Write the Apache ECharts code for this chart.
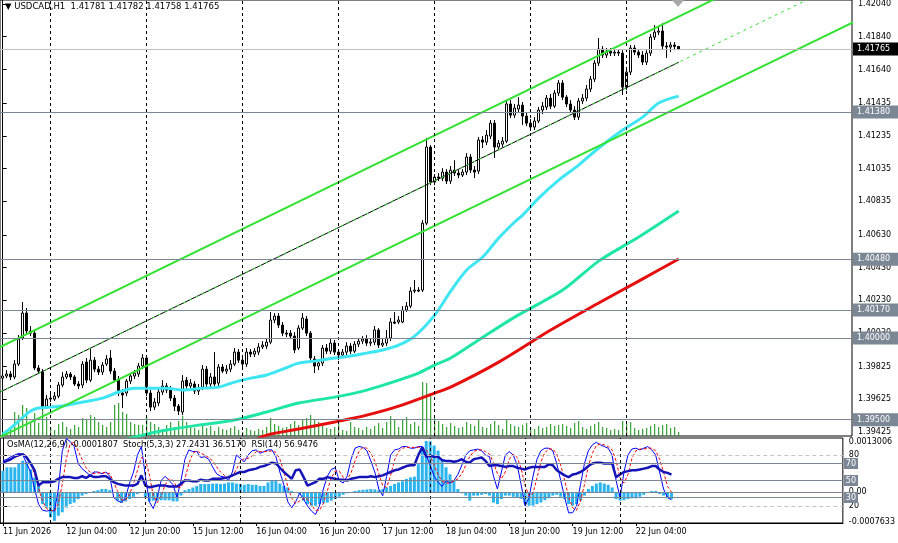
<!DOCTYPE html>
<html>
<head>
<meta charset="utf-8">
<title>USDCAD,H1</title>
<script src="https://cdn.jsdelivr.net/npm/echarts@6/dist/echarts.min.js"></script>
<style>
  html, body { margin: 0; padding: 0; background: #fff; }
  #myChart { width: 898px; height: 543px; }
</style>
</head>
<body>
<div id="myChart"></div>
<script>
// bar 0 = 11 Jun 2026 12:00, one bar per hour (weekend skipped)
// [open, close, low, high]
const candles = [
  [1.39754,1.39767,1.39736,1.39791],[1.39767,1.39779,1.39754,1.39803],[1.39779,1.39761,1.39742,1.39797],[1.39761,1.39840,1.39748,1.39864],[1.39840,1.39993,1.39828,1.40017],
  [1.39999,1.40152,1.39987,1.40219],[1.40152,1.40042,1.40023,1.40182],[1.40042,1.40029,1.40011,1.40072],[1.40029,1.39816,1.39803,1.40048],[1.39816,1.39797,1.39779,1.39834],
  [1.39791,1.39577,1.39559,1.39809],[1.39583,1.39626,1.39565,1.39651],[1.39626,1.39632,1.39608,1.39657],[1.39626,1.39644,1.39614,1.39669],[1.39644,1.39712,1.39632,1.39730],
  [1.39712,1.39761,1.39699,1.39791],[1.39761,1.39779,1.39748,1.39797],[1.39779,1.39761,1.39742,1.39791],[1.39761,1.39718,1.39706,1.39773],[1.39718,1.39706,1.39687,1.39736],
  [1.39712,1.39840,1.39693,1.39858],[1.39852,1.39742,1.39724,1.39877],[1.39742,1.39864,1.39730,1.39938],[1.39864,1.39809,1.39791,1.39883],[1.39809,1.39791,1.39773,1.39828],
  [1.39791,1.39834,1.39773,1.39852],[1.39840,1.39871,1.39828,1.39895],[1.39877,1.39797,1.39779,1.39926],[1.39797,1.39742,1.39730,1.39816],[1.39748,1.39663,1.39644,1.39767],
  [1.39663,1.39651,1.39571,1.39687],[1.39663,1.39736,1.39644,1.39748],[1.39736,1.39767,1.39718,1.39785],[1.39767,1.39785,1.39748,1.39803],[1.39779,1.39828,1.39761,1.39846],
  [1.39828,1.39877,1.39809,1.39901],[1.39877,1.39663,1.39644,1.39895],[1.39663,1.39577,1.39553,1.39681],[1.39577,1.39608,1.39559,1.39632],[1.39602,1.39669,1.39583,1.39687],
  [1.39669,1.39706,1.39651,1.39742],[1.39706,1.39681,1.39663,1.39724],[1.39681,1.39632,1.39614,1.39706],[1.39632,1.39583,1.39553,1.39651],[1.39583,1.39553,1.39528,1.39596],
  [1.39547,1.39736,1.39528,1.39773],[1.39742,1.39706,1.39687,1.39761],[1.39706,1.39724,1.39693,1.39748],[1.39718,1.39675,1.39657,1.39736],[1.39675,1.39693,1.39651,1.39718],
  [1.39699,1.39809,1.39681,1.39834],[1.39809,1.39718,1.39699,1.39828],[1.39718,1.39761,1.39699,1.39785],[1.39761,1.39718,1.39706,1.39913],[1.39724,1.39822,1.39706,1.39840],
  [1.39822,1.39797,1.39785,1.39840],[1.39797,1.39809,1.39779,1.39834],[1.39809,1.39840,1.39791,1.39864],[1.39840,1.39913,1.39828,1.39938],[1.39913,1.39864,1.39846,1.39932],
  [1.39864,1.39840,1.39816,1.39883],[1.39840,1.39913,1.39822,1.39938],[1.39913,1.39901,1.39883,1.39932],[1.39901,1.39919,1.39883,1.39938],[1.39913,1.39944,1.39895,1.39968],
  [1.39944,1.39956,1.39932,1.39980],[1.39950,1.39974,1.39932,1.39999],[1.39974,1.40109,1.39962,1.40158],[1.40109,1.40133,1.40090,1.40152],[1.40133,1.40078,1.40060,1.40152],
  [1.40078,1.40029,1.40011,1.40097],[1.40029,1.40023,1.40005,1.40048],[1.40029,1.40011,1.39993,1.40048],[1.40011,1.39926,1.39907,1.40035],[1.39938,1.40060,1.39926,1.40078],
  [1.40060,1.40121,1.40048,1.40152],[1.40115,1.40029,1.40011,1.40133],[1.40029,1.39877,1.39852,1.40042],[1.39871,1.39828,1.39785,1.39889],[1.39828,1.39846,1.39803,1.39871],
  [1.39846,1.39938,1.39828,1.39956],[1.39938,1.39919,1.39901,1.39962],[1.39919,1.39968,1.39901,1.39993],[1.39968,1.39913,1.39895,1.39987],[1.39913,1.39895,1.39864,1.39932],
  [1.39895,1.39913,1.39877,1.39932],[1.39913,1.39950,1.39895,1.39974],[1.39950,1.39919,1.39901,1.39968],[1.39919,1.39962,1.39907,1.39980],[1.39962,1.39980,1.39944,1.39999],
  [1.39980,1.39993,1.39962,1.40011],[1.39993,1.39968,1.39950,1.40017],[1.39968,1.39974,1.39950,1.39993],[1.39974,1.40048,1.39956,1.40072],[1.40048,1.39956,1.39938,1.40060],
  [1.39956,1.39968,1.39944,1.39993],[1.39968,1.39999,1.39950,1.40048],[1.39999,1.40097,1.39980,1.40121],[1.40097,1.40090,1.40084,1.40158],[1.40097,1.40109,1.40084,1.40133],
  [1.40097,1.40170,1.40090,1.40194],[1.40170,1.40194,1.40158,1.40219],[1.40194,1.40286,1.40182,1.40310],[1.40286,1.40292,1.40274,1.40353],[1.40292,1.40286,1.40280,1.40310],
  [1.40292,1.40701,1.40280,1.40720],[1.40701,1.41166,1.40689,1.41221],[1.41166,1.40952,1.40934,1.41178],[1.40952,1.40983,1.40934,1.41001],[1.40983,1.40976,1.40958,1.41007],
  [1.40976,1.41013,1.40958,1.41037],[1.41013,1.40958,1.40940,1.41031],[1.40958,1.41025,1.40940,1.41050],[1.41025,1.41007,1.40989,1.41086],[1.41007,1.40995,1.40976,1.41025],
  [1.40995,1.41013,1.40983,1.41031],[1.41013,1.41105,1.40995,1.41129],[1.41105,1.41025,1.41007,1.41123],[1.41025,1.41013,1.40976,1.41050],[1.41019,1.41209,1.41001,1.41227],
  [1.41209,1.41196,1.41160,1.41233],[1.41196,1.41239,1.41178,1.41270],[1.41233,1.41312,1.41215,1.41331],[1.41312,1.41166,1.41099,1.41331],[1.41166,1.41190,1.41147,1.41209],
  [1.41184,1.41202,1.41166,1.41227],[1.41202,1.41429,1.41190,1.41453],[1.41429,1.41361,1.41343,1.41453],[1.41361,1.41404,1.41343,1.41429],[1.41398,1.41422,1.41374,1.41471],
  [1.41422,1.41355,1.41300,1.41441],[1.41355,1.41312,1.41294,1.41374],[1.41312,1.41288,1.41264,1.41337],[1.41288,1.41325,1.41270,1.41349],[1.41325,1.41392,1.41312,1.41410],
  [1.41392,1.41416,1.41367,1.41441],[1.41410,1.41465,1.41392,1.41484],[1.41465,1.41416,1.41398,1.41490],[1.41416,1.41496,1.41404,1.41514],[1.41496,1.41557,1.41477,1.41575],
  [1.41557,1.41471,1.41453,1.41575],[1.41471,1.41429,1.41410,1.41484],[1.41429,1.41392,1.41374,1.41453],[1.41392,1.41349,1.41331,1.41416],[1.41349,1.41447,1.41331,1.41465],
  [1.41447,1.41465,1.41429,1.41490],[1.41465,1.41520,1.41447,1.41545],[1.41520,1.41581,1.41502,1.41600],[1.41581,1.41679,1.41563,1.41697],[1.41679,1.41765,1.41661,1.41832],
  [1.41765,1.41728,1.41710,1.41783],[1.41728,1.41752,1.41710,1.41771],[1.41752,1.41740,1.41722,1.41771],[1.41740,1.41746,1.41722,1.41765],[1.41746,1.41740,1.41722,1.41765],
  [1.41740,1.41532,1.41484,1.41758],[1.41532,1.41624,1.41514,1.41642],[1.41624,1.41771,1.41606,1.41789],[1.41771,1.41746,1.41728,1.41789],[1.41746,1.41728,1.41710,1.41765],
  [1.41728,1.41685,1.41667,1.41752],[1.41685,1.41740,1.41667,1.41758],[1.41740,1.41838,1.41722,1.41856],[1.41838,1.41868,1.41820,1.41911],[1.41868,1.41875,1.41850,1.41899],
  [1.41875,1.41783,1.41765,1.41923],[1.41783,1.41777,1.41710,1.41807],[1.41777,1.41789,1.41746,1.41807],[1.41789,1.41781,1.41758,1.41807],[1.41781,1.41765,1.41758,1.41782]
];

// tick volume per bar
const volumes = [
  160,240,360,960,840,1240,1120,560,920,520, 1040,760,360,240,480,560,360,280,440,360,
  720,640,840,760,560,440,360,560,1240,1320, 960,880,560,480,440,440,760,560,480,360,
  280,440,560,360,600,800,560,400,320,240, 480,320,400,200,360,280,240,320,400,240,
  160,320,240,200,280,240,360,720,480,400, 320,360,480,600,440,640,720,840,640,560,
  400,320,280,360,480,240,200,560,360,320, 240,360,280,400,520,320,560,800,680,360,
  640,760,480,560,400,2160,2120,1600,720,600, 480,360,520,400,320,360,560,480,400,640,
  360,320,480,600,440,280,680,480,400,360, 440,520,360,280,400,320,360,480,400,440,
  480,400,320,520,600,360,280,400,480,560, 360,320,240,280,240,600,480,560,320,240,
  280,320,400,480,360,440,480,320,360,160
];

// moving averages: [bar, price]
const maFast = [[0,1.39412],[2,1.39449],[4,1.39492],[7,1.39553],[9,1.39571],[12,1.39577],[16,1.39589],[20,1.39608],[25,1.39632],[29,1.39669],[33,1.39693],[37,1.39693],[41,1.39693],[45,1.39681],[50,1.39693],[54,1.39699],[58,1.39730],[62,1.39754],[66,1.39773],[70,1.39809],[74,1.39846],[78,1.39858],[83,1.39877],[87,1.39889],[91,1.39907],[95,1.39926],[99,1.39956],[103,1.40011],[108,1.40139],[112,1.40286],[116,1.40415],[120,1.40494],[124,1.40610],[128,1.40708],[130,1.40750],[134,1.40854],[139,1.40964],[144,1.41056],[149,1.41160],[155,1.41270],[160,1.41349],[164,1.41435],[169,1.41477]];
const maMid = [[30,1.39376],[36,1.39412],[41,1.39437],[49,1.39467],[58,1.39498],[66,1.39547],[74,1.39602],[83,1.39638],[91,1.39681],[99,1.39742],[104,1.39785],[108,1.39834],[112,1.39877],[119,1.39987],[128,1.40127],[140,1.40292],[149,1.40469],[159,1.40616],[169,1.40775]];
const maSlow = [[62,1.39363],[66,1.39406],[74,1.39443],[83,1.39486],[91,1.39528],[99,1.39583],[108,1.39663],[112,1.39699],[124,1.39852],[137,1.40048],[149,1.40213],[159,1.40347],[169,1.40482]];

// equidistant channel anchors: [bar, price]
const channelUpper = [[-10, 1.39833], [190, 1.42213]];
const channelMid = [[-10, 1.39558], [169, 1.41684]];
const channelRay = [[-10, 1.39558], [205, 1.42112]];
const channelLower = [[-10, 1.39283], [215, 1.41956]];

const levels = [1.41380, 1.40480, 1.40170, 1.40000, 1.39500];
const lastPrice = 1.41765;
const priceTicks = [1.42040, 1.41840, 1.41640, 1.41435, 1.41235, 1.41035, 1.40835, 1.40630, 1.40430, 1.40230, 1.40030, 1.39825, 1.39625, 1.39425];
const timeTickBars = [0, 16, 32, 48, 64, 80, 96, 112, 128, 144, 160];
const timeTickLabels = ['11 Jun 2026', '12 Jun 04:00', '12 Jun 20:00', '15 Jun 12:00', '16 Jun 04:00', '16 Jun 20:00', '17 Jun 12:00', '18 Jun 04:00', '18 Jun 20:00', '19 Jun 12:00', '22 Jun 04:00'];
const daySeparators = [12, 36, 60, 84, 108, 132, 156];

const osma = [
  0.00055,0.00064,0.00064,0.00064,0.00074,0.00081,0.00077,0.00059,0.00038,0.00016,
  -0.00031,-0.00040,-0.00065,-0.00074,-0.00061,-0.00052,-0.00040,-0.00031,-0.00027,-0.00018,
  -0.00009,-0.00005,-0.00001,0.00003,0.00005,0.00008,0.00008,0.00005,-0.00001,-0.00022,
  -0.00027,-0.00024,-0.00018,-0.00012,-0.00005,-0.00001,-0.00014,-0.00024,-0.00022,-0.00022,
  -0.00021,-0.00021,-0.00021,-0.00024,-0.00024,-0.00009,0.00005,0.00008,0.00012,0.00016,
  0.00021,0.00021,0.00021,0.00022,0.00022,0.00021,0.00022,0.00025,0.00025,0.00022,
  0.00021,0.00019,0.00021,0.00019,0.00019,0.00016,0.00016,0.00025,0.00029,0.00029,
  0.00022,0.00016,0.00012,0.00003,-0.00001,-0.00005,-0.00022,-0.00031,-0.00035,-0.00035,
  -0.00031,-0.00029,-0.00027,-0.00022,-0.00018,-0.00012,-0.00007,-0.00003,-0.00001,0.00003,
  0.00005,0.00006,0.00007,0.00008,0.00007,0.00005,0.00008,0.00012,0.00016,0.00021,
  0.00025,0.00028,0.00034,0.00038,0.00040,0.00072,0.00115,0.00132,0.00131,0.00120,
  0.00107,0.00085,0.00064,0.00046,0.00029,0.00008,-0.00003,-0.00009,-0.00022,-0.00009,
  -0.00009,-0.00007,-0.00005,-0.00009,-0.00027,-0.00031,-0.00018,-0.00009,-0.00009,-0.00012,
  -0.00014,-0.00018,-0.00031,-0.00035,-0.00035,-0.00031,-0.00027,-0.00021,-0.00016,-0.00009,
  -0.00007,-0.00012,-0.00018,-0.00031,-0.00035,-0.00031,-0.00022,-0.00009,0.00008,0.00016,
  0.00022,0.00025,0.00022,0.00019,0.00012,-0.00018,-0.00022,-0.00021,-0.00018,-0.00016,
  -0.00016,-0.00012,-0.00007,-0.00001,0.00003,0.00003,-0.00005,-0.00009,-0.00016,-0.0001807
];
const stochMain = [
  73,75,78,80,82,80,70,60,40,22, 15,14,15,14,40,85,99,96,90,70,
  64,60,56,60,60,58,60,55,30,26, 24,30,47,60,80,90,55,25,17,30,
  50,55,50,45,30,50,75,86,84,84, 77,78,75,66,58,55,54,50,60,80,
  76,72,80,85,86,82,84,86,86,78, 60,45,25,18,25,35,28,20,14,10,
  20,40,55,63,65,50,47,55,75,88, 90,89,85,73,60,40,32,55,80,86,
  87,90,90,88,88,90,90,80,68,55, 48,43,50,47,50,57,68,80,85,86,
  87,85,80,78,55,40,60,80,84,80, 68,45,20,30,55,75,85,88,88,85,
  70,50,30,12,12,20,45,70,85,92, 95,92,90,88,80,50,30,60,80,87,
  88,86,88,90,86,80,60,40,30,27.2431
];
const stochSignal = [
  70,72,75,77,79,80,77,70,57,41, 26,17,15,14,23,46,75,93,95,85,
  75,65,60,58,59,59,59,58,48,37, 27,27,34,46,62,77,75,57,32,24,
  32,45,52,50,42,42,52,70,82,85, 82,80,77,73,66,60,56,53,55,63,
  72,76,76,79,84,84,84,84,85,83, 75,61,43,29,23,26,29,28,21,15,
  15,23,38,53,61,61,54,51,59,73, 84,89,88,82,73,58,44,42,56,74,
  84,88,89,89,89,89,89,86,79,68, 57,49,47,47,49,52,58,68,78,84,
  86,86,84,81,71,58,52,60,75,81, 77,64,44,32,35,53,72,83,87,87,
  81,68,50,31,18,15,26,45,67,82, 91,93,92,90,86,73,53,47,57,76,
  85,87,87,88,88,85,75,60,43,36.5170
];
const rsi = [
  71,73,75,78,80,81,77,70,62,44, 48,48,48,49,52,54,54,54,53,53,
  55,53,56,54,54,55,55,52,48,46, 45,44,44,44,46,56,44,42,43,44,
  44,44,43,43,43,46,50,50,49,49, 51,50,50,52,52,52,53,54,56,58,
  60,60,62,63,64,66,67,69,71,70, 65,60,56,52,62,63,54,44,46,48,
  52,52,54,53,52,51,51,50,52,53, 54,54,54,55,54,55,56,58,60,62,
  63,65,67,68,68,80,89,78,79,78, 78,74,73,73,72,73,75,72,71,75,
  76,77,73,67,68,68,67,66,67,67, 65,64,63,65,66,66,66,66,69,68,
  62,59,56,54,57,58,60,63,67,70, 71,71,70,70,70,54,57,60,61,62,
  62,63,64,65,67,67,63,60,59,56.9476
];

const font = 'DejaVu Sans';
const slate = '#7b8794';
const chartGreen = '#33e233';
const withIndex = arr => arr.map((v, i) => [i, v]);

const myChart = echarts.init(document.getElementById('myChart'));

const separatorLine = {
  silent: true,
  symbol: 'none',
  animation: false,
  label: { show: false },
  lineStyle: { color: '#000', width: 1, type: [3, 3] },
  data: daySeparators.map(b => ({ xAxis: b }))
};

const boxLabel = {
  show: true,
  position: 'end',
  distance: 1,
  color: '#fff',
  fontFamily: font,
  fontSize: 8,
  padding: [3, 9, 2, 4],
  backgroundColor: slate
};

myChart.setOption({
  animation: false,
  backgroundColor: '#fff',
  textStyle: { fontFamily: font },
  title: [
    {
      text: '\u25BC USDCAD,H1  1.41781 1.41782 1.41758 1.41765',
      left: 5, top: 2, padding: 0,
      textStyle: { fontSize: 8.5, fontWeight: 'normal', color: '#000', fontFamily: font }
    },
    {
      text: 'OsMA(12,26,9) -0.0001807  Stoch(5,3,3) 27.2431 36.5170  RSI(14) 56.9476',
      left: 7, top: 441, padding: 0,
      textStyle: { fontSize: 8.2, fontWeight: 'normal', color: '#000', fontFamily: font }
    }
  ],
  graphic: [
    { type: 'polygon', shape: { points: [[672, 0], [684, 0], [678, 7]] }, style: { fill: '#a8a8a8' }, z: 100 }
  ],
  grid: [
    { left: 0, top: 0, width: 852, height: 436, show: true, borderColor: '#000', borderWidth: 1 },
    { left: 0, top: 438, width: 852, height: 85, show: true, borderColor: '#000', borderWidth: 1 }
  ],
  xAxis: [
    {
      type: 'value', gridIndex: 0, min: -0.675, max: 212.325,
      axisLine: { show: false }, axisTick: { show: false }, axisLabel: { show: false }, splitLine: { show: false }
    },
    {
      type: 'value', gridIndex: 1, min: -0.675, max: 212.325,
      axisLine: { show: true, lineStyle: { color: '#000' } },
      axisTick: { show: true, customValues: timeTickBars, length: 3, lineStyle: { color: '#000' } },
      axisLabel: {
        customValues: timeTickBars,
        formatter: v => timeTickLabels[timeTickBars.indexOf(v)] || '',
        align: 'left', margin: 5, color: '#000', fontSize: 8, fontFamily: font
      },
      splitLine: { show: false }
    }
  ],
  yAxis: [
    {
      type: 'value', gridIndex: 0, position: 'right', min: 1.394005, max: 1.420644,
      axisLine: { show: true, lineStyle: { color: '#000' } },
      axisTick: { show: true, customValues: priceTicks, length: 4, lineStyle: { color: '#000' } },
      axisLabel: { customValues: priceTicks, formatter: v => v.toFixed(5), margin: 6, color: '#000', fontSize: 8, fontFamily: font },
      splitLine: { show: false }
    },
    { type: 'value', gridIndex: 0, min: 0, max: 17440, show: false },
    {
      type: 'value', gridIndex: 1, position: 'right', min: 0, max: 100,
      axisLine: { show: true, lineStyle: { color: '#000' } },
      axisTick: { show: true, customValues: [80, 20], length: 4, lineStyle: { color: '#000' } },
      axisLabel: { customValues: [80, 20], margin: 6, color: '#000', fontSize: 8, fontFamily: font },
      splitLine: { show: false }
    },
    {
      type: 'value', gridIndex: 1, position: 'right', min: -0.0007968, max: 0.0013961,
      axisLine: { show: false },
      axisTick: { show: false },
      axisLabel: {
        customValues: [0.0013006, 0, -0.0007633],
        formatter: v => (v === 0 ? '0.00' : v.toFixed(7)),
        margin: 6, color: '#000', fontSize: 8, fontFamily: font
      },
      splitLine: { show: false }
    }
  ],
  series: [
    {
      name: 'Volumes', type: 'bar', xAxisIndex: 0, yAxisIndex: 1,
      data: withIndex(volumes), barWidth: 1,
      itemStyle: { color: '#0c920c' },
      markLine: separatorLine
    },
    {
      name: 'Price', type: 'candlestick', xAxisIndex: 0, yAxisIndex: 0,
      data: candles.map((d, i) => [i, d[0], d[1], d[2], d[3]]),
      encode: { x: 0, y: [1, 2, 3, 4] },
      barWidth: 2,
      itemStyle: { color: '#fff', color0: '#000', borderColor: '#000', borderColor0: '#000', borderWidth: 1 }
    },
    {
      name: 'MA slow', type: 'line', xAxisIndex: 0, yAxisIndex: 0, data: maSlow,
      smooth: 0.3, showSymbol: false, lineStyle: { color: '#e60d0d', width: 3 }
    },
    {
      name: 'MA mid', type: 'line', xAxisIndex: 0, yAxisIndex: 0, data: maMid,
      smooth: 0.3, showSymbol: false, lineStyle: { color: '#1fe6a6', width: 3 }
    },
    {
      name: 'MA fast', type: 'line', xAxisIndex: 0, yAxisIndex: 0, data: maFast,
      smooth: 0.3, showSymbol: false, lineStyle: { color: '#3ee6f4', width: 3 }
    },
    {
      name: 'Channel upper', type: 'line', xAxisIndex: 0, yAxisIndex: 0, data: channelUpper,
      showSymbol: false, lineStyle: { color: chartGreen, width: 2 }
    },
    {
      name: 'Channel lower', type: 'line', xAxisIndex: 0, yAxisIndex: 0, data: channelLower,
      showSymbol: false, lineStyle: { color: chartGreen, width: 2 }
    },
    {
      name: 'Channel mid', type: 'line', xAxisIndex: 0, yAxisIndex: 0, data: channelMid,
      showSymbol: false, lineStyle: { color: '#000', width: 1 },
      // horizontal price levels with their axis tags
      markLine: {
        silent: true, symbol: 'none', animation: false, precision: 6,
        lineStyle: { color: slate, width: 1, type: 'solid' },
        label: boxLabel,
        data: levels.map(v => ({ yAxis: v, label: { formatter: v.toFixed(5) } })).concat([
          {
            yAxis: lastPrice,
            lineStyle: { color: '#c0c0c0' },
            label: { formatter: lastPrice.toFixed(5), backgroundColor: '#000' }
          }
        ])
      }
    },
    {
      name: 'Channel ray', type: 'line', xAxisIndex: 0, yAxisIndex: 0, data: channelRay,
      showSymbol: false, lineStyle: { color: chartGreen, width: 1, type: [3, 4] }
    },
    {
      name: 'OsMA', type: 'bar', xAxisIndex: 1, yAxisIndex: 3,
      data: withIndex(osma), barWidth: 3,
      itemStyle: { color: '#2cb4ee' },
      markLine: {
        silent: true, symbol: 'none', animation: false,
        label: { show: false },
        lineStyle: { color: slate, width: 1, type: 'solid' },
        data: [{ yAxis: 0 }].concat(daySeparators.map(b => ({ xAxis: b, lineStyle: { color: '#000', type: [3, 3] } })))
      }
    },
    {
      name: 'Stoch', type: 'line', xAxisIndex: 1, yAxisIndex: 2,
      data: withIndex(stochMain), showSymbol: false,
      lineStyle: { color: '#0000ff', width: 1 },
      markLine: {
        silent: true, symbol: 'none', animation: false,
        lineStyle: { color: slate, width: 1, type: 'solid' },
        label: Object.assign({}, boxLabel, { padding: [2, 2, 1, 2] }),
        data: [
          { yAxis: 80, lineStyle: { color: '#c4c4c4', type: [4, 3] }, label: { show: false } },
          { yAxis: 20, lineStyle: { color: '#c4c4c4', type: [4, 3] }, label: { show: false } },
          { yAxis: 70, label: { formatter: '70' } },
          { yAxis: 50, label: { formatter: '50' } },
          { yAxis: 30, label: { formatter: '30' } }
        ]
      }
    },
    {
      name: 'Signal', type: 'line', xAxisIndex: 1, yAxisIndex: 2,
      data: withIndex(stochSignal), showSymbol: false,
      lineStyle: { color: '#ff0000', width: 1, type: [3, 2] }
    },
    {
      name: 'RSI', type: 'line', xAxisIndex: 1, yAxisIndex: 2,
      data: withIndex(rsi), showSymbol: false,
      lineStyle: { color: '#1414b8', width: 2.5 }
    }
  ]
});

window.addEventListener('resize', function () {
  myChart.resize();
});
</script>
</body>
</html>
